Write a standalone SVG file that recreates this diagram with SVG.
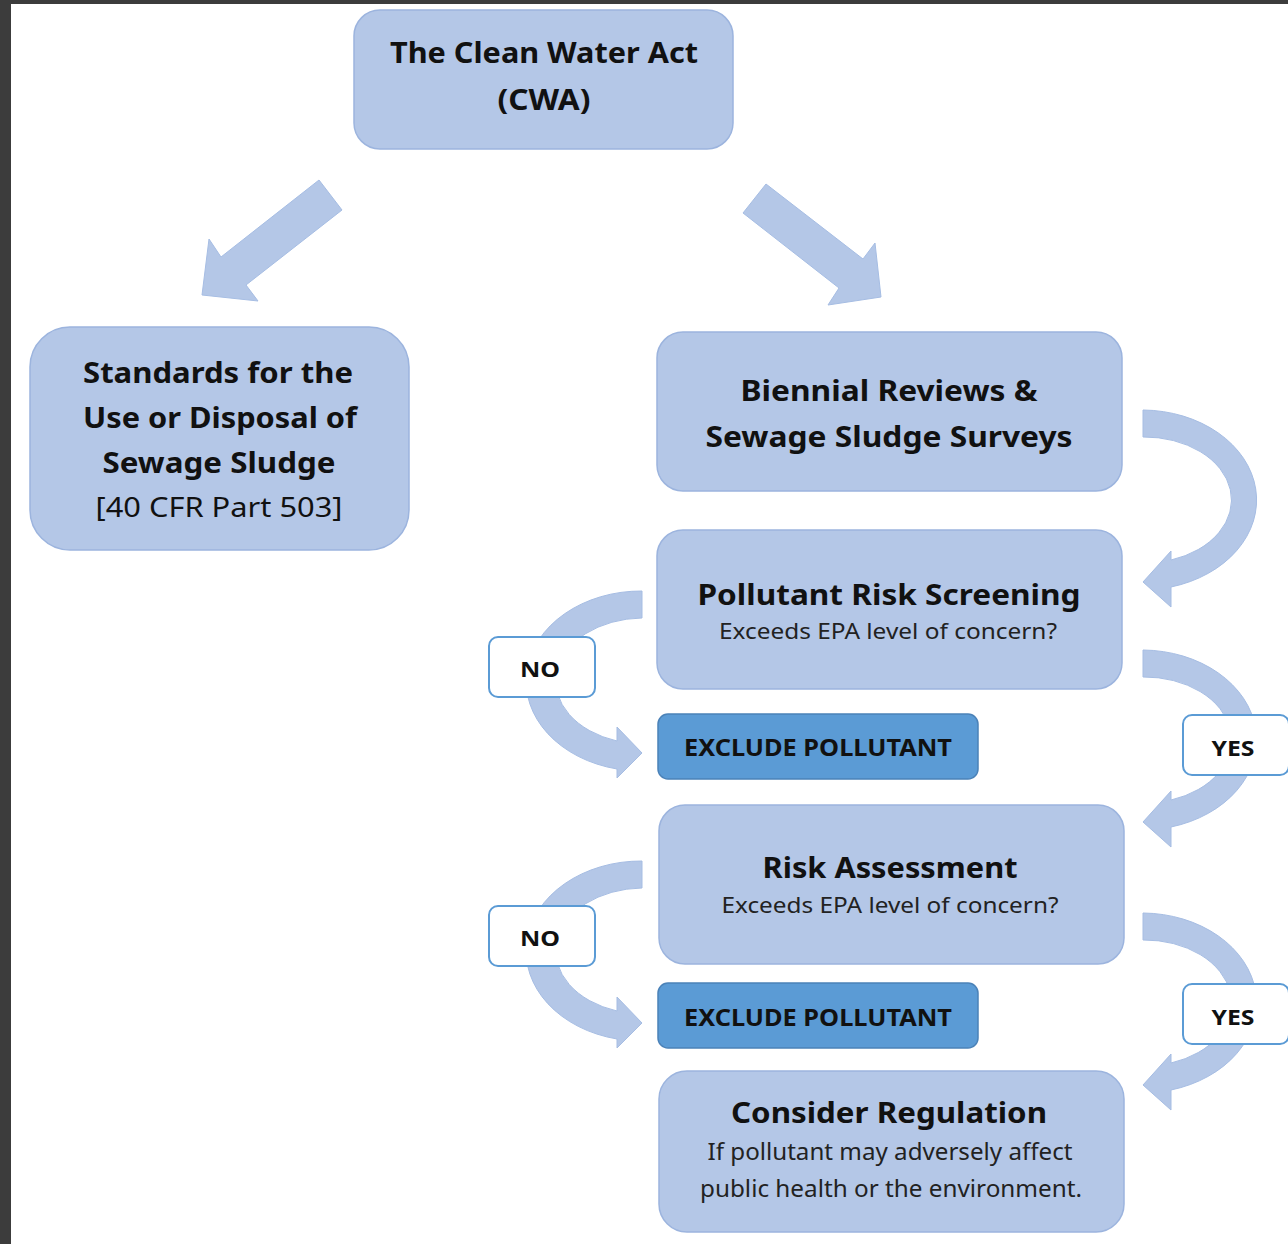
<svg xmlns="http://www.w3.org/2000/svg" width="1288" height="1244" viewBox="0 0 1288 1244">
<style>
.node{fill:#b4c7e7;stroke:#9cb4de;stroke-width:1.5}
.excl{fill:#5b9bd5;stroke:#4b82b8;stroke-width:1.5}
.lbl{fill:#ffffff;stroke:#5b9bd5;stroke-width:2}
.arr{fill:#b4c7e7;stroke:#a6bde3;stroke-width:1}
text{font-family:"Noto Sans","Open Sans",sans-serif;fill:#111;text-anchor:middle}
.t{font-weight:bold;font-size:28px}
.r{font-size:27px}
.s{font-size:21px;fill:#222}
.s2{font-size:23px;fill:#222}
.e{font-weight:bold;font-size:24px}
.l{font-weight:bold;font-size:21px}
</style>
<defs>
<path id="curveR" d="M1143,410 A115,90 0 0 1 1171,587 L1171,607 L1143,582 L1171,551 L1171,560 A87,63 0 0 0 1143,437 Z"/>
<path id="curveL" d="M642,591 A115,90 0 0 0 617,769 L617,778 L642,753 L617,727 L617,741 A88,63 0 0 1 642,618 Z"/>
</defs>
<rect x="0" y="0" width="1288" height="1244" fill="#ffffff"/>
<rect x="0" y="0" width="1288" height="4" fill="#3c3c3c"/>
<rect x="0" y="0" width="11" height="1244" fill="#3c3c3c"/>

<g id="connectors">
<polygon class="arr" points="319,180 342,210 246,285 258,301 202,295 209,239 221,257"/>
<polygon class="arr" points="766,184 863,259 875,243 881,297 828,305 839,288 743,213"/>
<use href="#curveR" class="arr"/>
<use href="#curveR" class="arr" transform="translate(0,240)"/>
<use href="#curveR" class="arr" transform="translate(0,503)"/>
<use href="#curveL" class="arr"/>
<use href="#curveL" class="arr" transform="translate(0,270)"/>
</g>

<g id="cwa">
<rect class="node" x="354" y="10" width="379" height="139" rx="26"/>
<text class="t" x="544" y="63" font-size="29" textLength="308" lengthAdjust="spacingAndGlyphs">The Clean Water Act</text>
<text class="t" x="544" y="110" font-size="29" textLength="93" lengthAdjust="spacingAndGlyphs">(CWA)</text>
</g>

<g id="standards">
<rect class="node" x="30" y="327" width="379" height="223" rx="40"/>
<text class="t" x="218" y="383" textLength="270" lengthAdjust="spacingAndGlyphs">Standards for the</text>
<text class="t" x="220" y="428" textLength="274" lengthAdjust="spacingAndGlyphs">Use or Disposal of</text>
<text class="t" x="219" y="473" textLength="233" lengthAdjust="spacingAndGlyphs">Sewage Sludge</text>
<text class="r" x="219" y="517" textLength="247" lengthAdjust="spacingAndGlyphs">[40 CFR Part 503]</text>
</g>

<g id="biennial">
<rect class="node" x="657" y="332" width="465" height="159" rx="26"/>
<text class="t" x="889" y="401" textLength="297" lengthAdjust="spacingAndGlyphs">Biennial Reviews &amp;</text>
<text class="t" x="889" y="447" textLength="367" lengthAdjust="spacingAndGlyphs">Sewage Sludge Surveys</text>
</g>

<g id="screening">
<rect class="node" x="657" y="530" width="465" height="159" rx="26"/>
<text class="t" x="889" y="605" textLength="383" lengthAdjust="spacingAndGlyphs">Pollutant Risk Screening</text>
<text class="s" x="888" y="639" textLength="338" lengthAdjust="spacingAndGlyphs">Exceeds EPA level of concern?</text>
</g>

<g id="exclude1">
<rect class="excl" x="658" y="714" width="320" height="65" rx="10"/>
<text class="e" x="818" y="756" textLength="268" lengthAdjust="spacingAndGlyphs">EXCLUDE POLLUTANT</text>
</g>

<g id="assessment">
<rect class="node" x="659" y="805" width="465" height="159" rx="26"/>
<text class="t" x="890" y="878" textLength="255" lengthAdjust="spacingAndGlyphs">Risk Assessment</text>
<text class="s" x="890" y="913" textLength="337" lengthAdjust="spacingAndGlyphs">Exceeds EPA level of concern?</text>
</g>

<g id="exclude2">
<rect class="excl" x="658" y="983" width="320" height="65" rx="10"/>
<text class="e" x="818" y="1026" textLength="268" lengthAdjust="spacingAndGlyphs">EXCLUDE POLLUTANT</text>
</g>

<g id="regulation">
<rect class="node" x="659" y="1071" width="465" height="161" rx="28"/>
<text class="t" x="889" y="1123" textLength="316" lengthAdjust="spacingAndGlyphs">Consider Regulation</text>
<text class="s2" x="890" y="1160" textLength="365" lengthAdjust="spacingAndGlyphs">If pollutant may adversely affect</text>
<text class="s2" x="891" y="1197" textLength="382" lengthAdjust="spacingAndGlyphs">public health or the environment.</text>
</g>

<g id="no1">
<rect class="lbl" x="489" y="637" width="106" height="60" rx="9"/>
<text class="l" x="540" y="677" textLength="40" lengthAdjust="spacingAndGlyphs">NO</text>
</g>
<g id="no2">
<rect class="lbl" x="489" y="906" width="106" height="60" rx="9"/>
<text class="l" x="540" y="946" textLength="40" lengthAdjust="spacingAndGlyphs">NO</text>
</g>
<g id="yes1">
<rect class="lbl" x="1183" y="715" width="106" height="60" rx="9"/>
<text class="l" x="1233" y="756" textLength="43" lengthAdjust="spacingAndGlyphs">YES</text>
</g>
<g id="yes2">
<rect class="lbl" x="1183" y="984" width="106" height="60" rx="9"/>
<text class="l" x="1233" y="1025" textLength="43" lengthAdjust="spacingAndGlyphs">YES</text>
</g>
</svg>
